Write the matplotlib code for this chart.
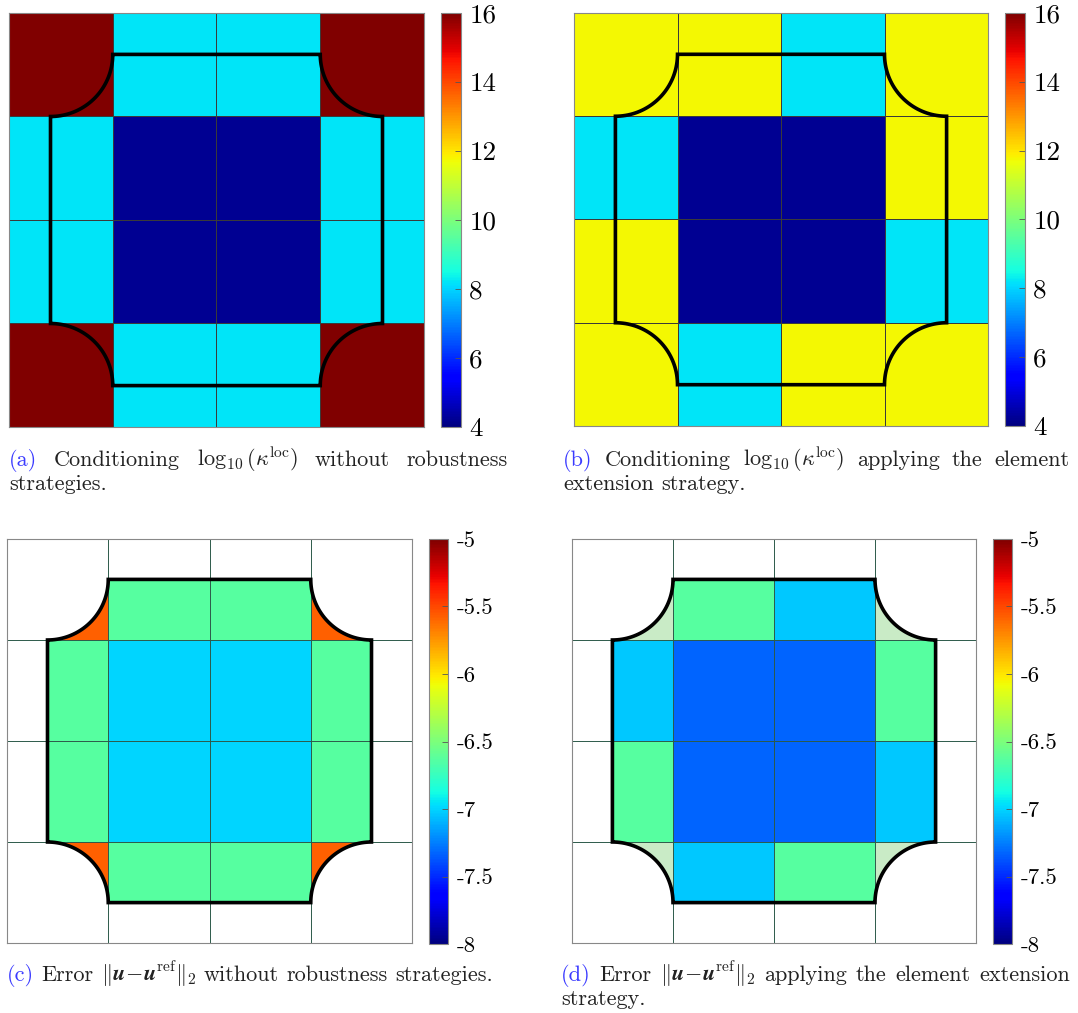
import numpy as np
import matplotlib.pyplot as plt
from matplotlib.path import Path
from matplotlib.patches import PathPatch
from matplotlib.colors import ListedColormap

plt.rcParams['font.family'] = ['cmr10', 'DejaVu Serif']
plt.rcParams['mathtext.fontset'] = 'cm'
plt.rcParams['axes.unicode_minus'] = False

# --- datos (fila 0 = arriba) ---
kappa_a = [[16.0, 8.2, 8.2, 16.0],
           [8.2, 4.2, 4.2, 8.2],
           [8.2, 4.2, 4.2, 8.2],
           [16.0, 8.2, 8.2, 16.0]]
kappa_b = [[11.75, 11.75, 8.2, 11.75],
           [8.2, 4.2, 4.2, 11.75],
           [11.75, 4.2, 4.2, 8.2],
           [11.75, 8.2, 11.75, 11.75]]
err_c = [[-5.58, -6.63, -6.63, -5.58],
         [-6.63, -7.0, -7.0, -6.63],
         [-6.63, -7.0, -7.0, -6.63],
         [-5.58, -6.63, -6.63, -5.58]]
err_d = [[np.nan, -6.63, -7.03, np.nan],
         [-7.03, -7.33, -7.33, -6.63],
         [-6.63, -7.33, -7.33, -7.03],
         [np.nan, -7.03, -6.63, np.nan]]
# elementos extendidos (esquinas) en (d)
ext_d = [[1, 0, 0, 1],
         [0, 0, 0, 0],
         [0, 0, 0, 0],
         [1, 0, 0, 1]]

kappa_ticks = [4, 6, 8, 10, 12, 14, 16]
err_ticks = [-8, -7.5, -7, -6.5, -6, -5.5, -5]
err_labels = ['-8', '-7.5', '-7', '-6.5', '-6', '-5.5', '-5']

W, H = 1078, 1013
fig = plt.figure(figsize=(W / 100, H / 100), dpi=100)


def rect(left, top, w, h):
    return [left / W, 1 - (top + h) / H, w / W, h / H]


def dominio():
    # cuadrado [0.4, 3.6]^2 sin cuartos de circulo (r = 0.6) en las esquinas
    r = 0.6
    pts = [(1.0, 3.6), (3.0, 3.6)]
    for c, a0 in [((3.6, 3.6), 180), ((3.6, 0.4), 90), ((0.4, 0.4), 0), ((0.4, 3.6), 270)]:
        th = np.radians(np.linspace(a0, a0 + 90, 40))
        pts += list(zip(c[0] + r * np.cos(th), c[1] + r * np.sin(th)))
    pts.append((1.0, 3.6))
    return Path(pts, closed=True)


edges = np.arange(5)


def panel(ax, vals, vmin, vmax, recortar=False, ext=None):
    data = np.flipud(np.array(vals, dtype=float))
    path = dominio()
    if recortar:
        m = ax.pcolormesh(edges, edges, np.ma.masked_invalid(data), cmap='jet',
                          vmin=vmin, vmax=vmax, shading='flat')
        m.set_clip_path(path, ax.transData)
        if ext is not None:
            e = np.flipud(np.array(ext, dtype=float))
            pm = ax.pcolormesh(edges, edges, np.ma.masked_equal(e, 0),
                               cmap=ListedColormap(['#c9ebc6']), shading='flat')
            pm.set_clip_path(path, ax.transData)
        ax.vlines([1, 2, 3], 0, 4, color='#2d5a4a', lw=0.7)
        ax.hlines([1, 2, 3], 0, 4, color='#2d5a4a', lw=0.7)
    else:
        m = ax.pcolormesh(edges, edges, data, cmap='jet', vmin=vmin, vmax=vmax,
                          shading='flat', edgecolors='#3a3a3a', linewidth=0.5)
    ax.add_patch(PathPatch(path, fill=False, ec='black', lw=2.6, zorder=5))
    ax.set_xlim(0, 4)
    ax.set_ylim(0, 4)
    ax.set_xticks([])
    ax.set_yticks([])
    for s in ax.spines.values():
        s.set_color('#888888')
        s.set_linewidth(0.8)
    return m


def barra(cax, m, ticks, labels, size):
    cb = fig.colorbar(m, cax=cax, ticks=ticks)
    cb.ax.set_yticklabels(labels)
    cb.ax.tick_params(direction='in', length=4, width=0.6, labelsize=size,
                      pad=6, color='#555555')
    cb.outline.set_edgecolor('#888888')
    cb.outline.set_linewidth(0.8)


ax_a = fig.add_axes(rect(9, 13, 415, 414))
ax_b = fig.add_axes(rect(574, 13, 414, 413))
ax_c = fig.add_axes(rect(7, 539, 405, 404))
ax_d = fig.add_axes(rect(572, 539, 404, 404))

m_a = panel(ax_a, kappa_a, 4, 16)
m_b = panel(ax_b, kappa_b, 4, 16)
m_c = panel(ax_c, err_c, -8, -5, recortar=True)
m_d = panel(ax_d, err_d, -8, -5, recortar=True, ext=ext_d)

kl = [str(t) for t in kappa_ticks]
barra(fig.add_axes(rect(441, 13, 20, 414)), m_a, kappa_ticks, kl, 19.5)
barra(fig.add_axes(rect(1005, 13, 20, 413)), m_b, kappa_ticks, kl, 19.5)
barra(fig.add_axes(rect(429, 539, 19, 405)), m_c, err_ticks, err_labels, 16.5)
barra(fig.add_axes(rect(993, 539, 19, 405)), m_d, err_ticks, err_labels, 16.5)

# --- leyendas de las subfiguras ---
azul = '#3b3bff'
negro = '#222222'
fs = 16
renderer = fig.canvas.get_renderer()


def linea(piezas, x0, y, x1=None):
    textos = [fig.text(x0 / W, 1 - y / H, s, color=c, fontsize=fs, va='baseline')
              for s, c in piezas]
    anchos = [t.get_window_extent(renderer).width for t in textos]
    if x1 is not None and len(piezas) > 1:
        gap = (x1 - x0 - sum(anchos)) / (len(piezas) - 1)
    else:
        gap = fs * 100 / 72 * 0.33
    x = x0
    for t, w in zip(textos, anchos):
        t.set_x(x / W)
        x += w + gap


kap = r'$\log_{10}(\kappa^{\mathrm{loc}})$'
err = r'$\Vert\boldsymbol{u}\!-\!\boldsymbol{u}^{\mathrm{ref}}\Vert_2$'

linea([('(a)', azul), ('Conditioning', negro), (kap, negro), ('without', negro),
       ('robustness', negro)], 9, 466, 508)
linea([('strategies.', negro)], 9, 490)
linea([('(b)', azul), ('Conditioning', negro), (kap, negro), ('applying', negro),
       ('the', negro), ('element', negro)], 563, 466, 1070)
linea([('extension', negro), ('strategy.', negro)], 563, 490)
linea([('(c)', azul), ('Error', negro), (err, negro), ('without', negro),
       ('robustness', negro), ('strategies.', negro)], 7, 981)
linea([('(d)', azul), ('Error', negro), (err, negro), ('applying', negro), ('the', negro),
       ('element', negro), ('extension', negro)], 561, 981, 1070)
linea([('strategy.', negro)], 561, 1005)

fig.savefig('out.png', dpi=100)
